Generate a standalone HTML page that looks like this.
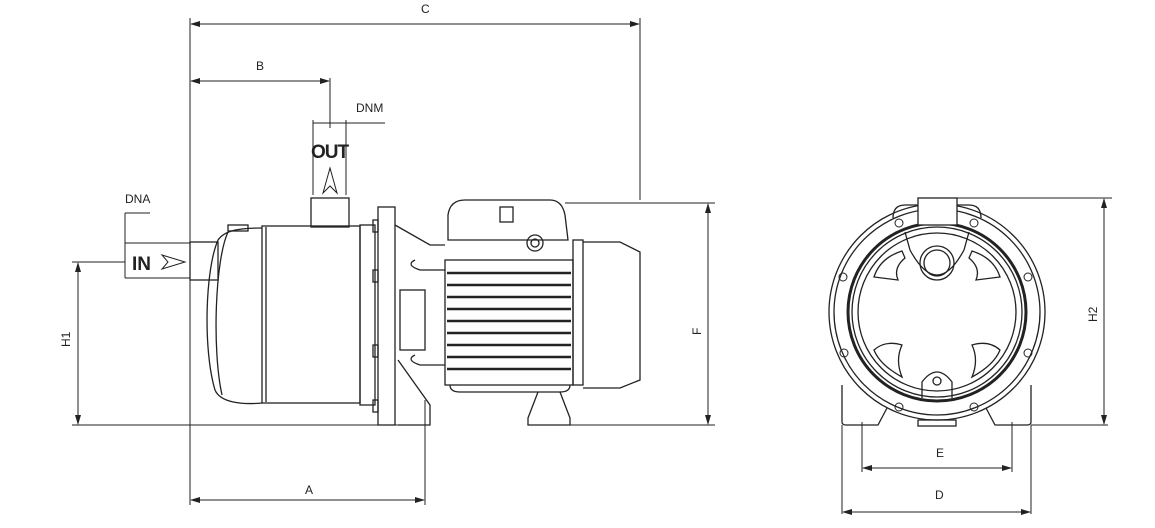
<!DOCTYPE html>
<html><head><style>
html,body{margin:0;padding:0;background:#fff;}
svg{display:block;}
text{font-family:"Liberation Sans",sans-serif;fill:#222;}
</style></head><body>
<svg width="1155" height="528" viewBox="0 0 1155 528" xmlns="http://www.w3.org/2000/svg">
<defs>
<marker id="a" markerWidth="10" markerHeight="6" refX="9" refY="3" orient="auto-start-reverse" markerUnits="userSpaceOnUse"><path d="M0,0 L10,3 L0,6 z" fill="#222"/></marker>
</defs>
<g stroke="#222" stroke-width="1" fill="none">
<line x1="190" y1="18" x2="190" y2="505"/>
<line x1="640" y1="18" x2="640" y2="200"/>
<line x1="191" y1="24" x2="639" y2="24" marker-start="url(#a)" marker-end="url(#a)"/>
<line x1="191" y1="81" x2="329" y2="81" marker-start="url(#a)" marker-end="url(#a)"/>
<line x1="330" y1="78" x2="330" y2="128"/>
<line x1="313" y1="123" x2="385" y2="123"/>
<line x1="313" y1="120" x2="313" y2="195"/>
<line x1="346" y1="120" x2="346" y2="195"/>
<line x1="125" y1="213" x2="150" y2="213"/>
<line x1="125" y1="213" x2="125" y2="278"/>
<line x1="125" y1="243" x2="190" y2="243"/>
<line x1="125" y1="278" x2="190" y2="278"/>
<line x1="72" y1="262" x2="125" y2="262"/>
<line x1="78" y1="263" x2="78" y2="424" marker-start="url(#a)" marker-end="url(#a)"/>
<line x1="72" y1="425" x2="430" y2="425"/>
<line x1="425" y1="400" x2="425" y2="505"/>
<line x1="191" y1="500" x2="424" y2="500" marker-start="url(#a)" marker-end="url(#a)"/>
<line x1="565" y1="203" x2="715" y2="203"/>
<line x1="570" y1="425" x2="715" y2="425"/>
<line x1="708" y1="204" x2="708" y2="424" marker-start="url(#a)" marker-end="url(#a)"/>
<path d="M162,255 L185,262 L162,269 L168,262 z"/>
<path d="M323,193 L330,168 L337,193 L330,186 z"/>
</g>
<g stroke="#222" stroke-width="1.3" fill="none">
<rect x="190" y="242" width="28" height="38"/>
<rect x="311" y="198" width="38" height="29"/>
<path d="M262,228 C240,228 225,230 218,240 C205,270 203,350 215,390 C220,402 240,405 262,403"/>
<path d="M228,232 C215,260 212,350 222,395"/>
<rect x="228" y="225" width="20" height="6"/>
<rect x="262" y="226" width="98" height="177"/>
<line x1="266" y1="227" x2="266" y2="402"/>
<rect x="360" y="225" width="15" height="180"/>
<rect x="378" y="207" width="17" height="218"/>
<rect x="373" y="220" width="5" height="12"/><rect x="373" y="270" width="5" height="12"/><rect x="373" y="345" width="5" height="12"/><rect x="373" y="400" width="5" height="12"/>
<path d="M395,225 L430,245 L445,245"/>
<path d="M398,360 L430,405 L430,425 L398,425"/>
<rect x="400" y="290" width="25" height="60"/>
<path d="M415,260 Q405,265 420,270 L445,270"/>
<path d="M415,355 Q405,360 420,365 L445,365"/>
<path d="M448,240 L448,215 Q450,200 465,200 L550,200 Q562,200 565,215 L568,240 Z"/>
<rect x="500" y="207" width="13" height="15"/>
<circle cx="535" cy="243" r="8"/><circle cx="535" cy="243" r="4"/>
<rect x="445" y="260" width="128" height="125"/>
<g stroke-width="2.5">
<line x1="447" y1="273" x2="571" y2="273"/><line x1="447" y1="285" x2="571" y2="285"/>
<line x1="447" y1="297" x2="571" y2="297"/><line x1="447" y1="309" x2="571" y2="309"/>
<line x1="447" y1="321" x2="571" y2="321"/><line x1="447" y1="333" x2="571" y2="333"/>
<line x1="447" y1="345" x2="571" y2="345"/><line x1="447" y1="357" x2="571" y2="357"/>
<line x1="447" y1="369" x2="571" y2="369"/>
</g>
<path d="M450,385 Q450,392 460,392 L560,392 Q570,392 570,385"/>
<rect x="573" y="240" width="10" height="145"/>
<path d="M583,242 L620,242 L640,252 L640,380 L620,388 L583,388"/>
<path d="M538,392 L528,418 L528,425 L570,425 L570,418 L560,392"/>
</g>
<!-- front view -->
<g stroke="#222" stroke-width="1.3" fill="none">
<path d="M842,385 L842,422 Q842,425 846,425 L878,425 L887,408"/>
<path d="M1031,385 L1031,422 Q1031,425 1027,425 L995,425 L986,408"/>
<circle cx="937" cy="312" r="108" fill="#fff"/>
<circle cx="937" cy="312" r="103"/>
<circle cx="937" cy="312" r="89" stroke-width="3"/>
<circle cx="937" cy="312" r="85"/>
<circle cx="937" cy="312" r="79"/>
<path d="M893,218 Q893,205 905,205 L918,205"/><path d="M981,218 Q981,205 969,205 L957,205"/>
<rect x="918" y="198" width="39" height="27" fill="#fff"/>
<path d="M905,232 L910,250 Q937,300 964,250 L969,232"/>
<circle cx="937" cy="263" r="17"/><circle cx="937" cy="263" r="13"/>
<path d="M902,251 Q880,258 874,277 L898,280 Q893,268 905,258z"/>
<path d="M972,251 Q994,258 1000,277 L976,280 Q981,268 969,258z"/>
<path d="M874,350 Q885,340 902,345 Q895,360 902,377 Q880,365 874,350z"/>
<path d="M1000,350 Q989,340 972,345 Q979,360 972,377 Q994,365 1000,350z"/>
<path d="M922,398 L922,382 Q937,362 952,382 L952,398"/>
<circle cx="937" cy="381" r="4"/>
<g stroke-width="1"><circle cx="899" cy="223" r="4"/><circle cx="974" cy="223" r="4"/>
<circle cx="843" cy="277" r="4"/><circle cx="1028" cy="277" r="4"/>
<circle cx="844" cy="353" r="4"/><circle cx="1028" cy="353" r="4"/>
<circle cx="899" cy="407" r="4"/><circle cx="974" cy="407" r="4"/></g>
<rect x="918" y="420" width="38" height="6"/>
</g>
<g stroke="#222" stroke-width="1" fill="none">
<line x1="957" y1="198" x2="1112" y2="198"/>
<line x1="1031" y1="425" x2="1108" y2="425"/>
<line x1="1104" y1="199" x2="1104" y2="424" marker-start="url(#a)" marker-end="url(#a)"/>
<line x1="862" y1="422" x2="862" y2="472"/><line x1="1012" y1="422" x2="1012" y2="472"/>
<line x1="863" y1="468" x2="1011" y2="468" marker-start="url(#a)" marker-end="url(#a)"/>
<line x1="842" y1="425" x2="842" y2="514"/><line x1="1031" y1="425" x2="1031" y2="514"/>
<line x1="843" y1="512" x2="1030" y2="512" marker-start="url(#a)" marker-end="url(#a)"/>
</g>
<g font-size="12">
<text x="421" y="13">C</text>
<text x="256" y="70">B</text>
<text x="356" y="112">DNM</text>
<text x="125" y="203">DNA</text>
<text x="305" y="494">A</text>
<text x="936" y="457">E</text>
<text x="935" y="499">D</text>
<text transform="translate(70,347) rotate(-90)">H1</text>
<text transform="translate(701,335) rotate(-90)">F</text>
<text transform="translate(1097,322) rotate(-90)">H2</text>
</g>
<text x="311" y="158" font-size="19" font-weight="bold" style="letter-spacing:-1px">OUT</text>
<text x="132" y="270" font-size="19" font-weight="bold">IN</text>
</svg>
</body></html>
